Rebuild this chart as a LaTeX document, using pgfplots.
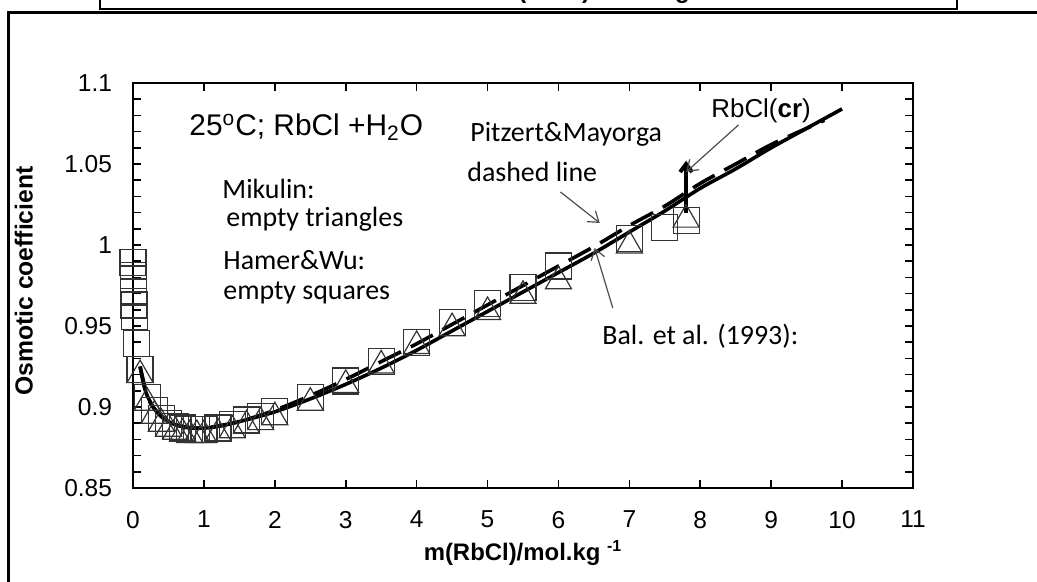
\documentclass[border=0pt]{standalone}
\usepackage{fontspec}
\setmainfont{Liberation Sans}
\newfontfamily\calibri{Carlito}
\usepackage{pgfplots}
\pgfplotsset{compat=1.18}
\usetikzlibrary{arrows.meta}

\pgfplotstableread{
m phi
0.001 0.989
0.002 0.981
0.005 0.979
0.01 0.971
0.015 0.963
0.02 0.956
0.05 0.939
0.1 0.923
0.2 0.906
0.3 0.898
0.4 0.893
0.5 0.890
0.6 0.888
0.7 0.887
0.8 0.886
0.9 0.886
1.0 0.886
1.2 0.887
1.4 0.889
1.6 0.892
1.8 0.894
2.0 0.897
2.5 0.906
3.0 0.916
3.5 0.928
4.0 0.940
4.5 0.952
5.0 0.964
5.5 0.974
6.0 0.987
7.0 1.004
7.5 1.011
7.8 1.015
}\hamerwu

\pgfplotstableread{
m phi
0.1 0.922
0.2 0.905
0.3 0.897
0.4 0.892
0.5 0.889
0.6 0.887
0.7 0.886
0.8 0.885
0.9 0.885
1.0 0.885
1.2 0.886
1.4 0.888
1.6 0.891
1.8 0.893
2.0 0.896
2.5 0.905
3.0 0.916
3.5 0.928
4.0 0.940
4.5 0.951
5.0 0.961
5.5 0.971
6.0 0.980
7.0 1.002
7.8 1.018
}\mikulin

\pgfplotstableread{
m phi
0.1 0.925
0.15 0.914
0.2 0.907
0.3 0.899
0.4 0.894
0.5 0.891
0.6 0.889
0.7 0.888
0.8 0.887
1.0 0.887
1.2 0.888
1.5 0.891
2.0 0.897
2.5 0.905
3.0 0.914
3.5 0.924
4.0 0.935
4.5 0.947
5.0 0.959
5.5 0.971
6.0 0.983
6.5 0.995
7.0 1.008
7.5 1.021
8.0 1.035
8.5 1.047
9.0 1.060
9.5 1.072
10.0 1.084
}\bal

\pgfplotstableread{
m phi
0.1 0.925
0.2 0.907
0.3 0.899
0.5 0.891
0.7 0.888
1.0 0.887
1.5 0.891
2.0 0.898
2.5 0.907
3.0 0.917
3.5 0.928
4.0 0.939
4.5 0.951
5.0 0.963
5.5 0.975
6.0 0.987
6.5 0.999
7.0 1.012
7.5 1.024
8.0 1.038
8.5 1.050
9.0 1.062
9.5 1.072
9.75 1.077
}\pitzer

\begin{document}
\begin{tikzpicture}[x=0.5bp,y=0.5bp]
\useasboundingbox (0,0) rectangle (1037,582);
% outer frame and the title box, which is cut off by the top edge
\draw[line width=1.5bp] (8,-20) -- (8,569) -- (1060,569);
\draw[line width=1bp] (100,620) -- (100,573) -- (957,573) -- (957,620);
\node[anchor=base east, inner sep=0, font=\fontsize{12}{14}\selectfont\bfseries] at (512,583) {Osmotic coefficient of};
\node[anchor=base west, inner sep=0, font=\fontsize{12}{14}\selectfont\bfseries] at (518,583) {(RbCl) and large};

\begin{axis}[
  at={(66.5bp,47bp)}, anchor=south west,
  scale only axis, width=390bp, height=202.5bp,
  xmin=0, xmax=11, ymin=0.85, ymax=1.1,
  xtick={0,1,...,11},
  ytick={0.85,0.9,0.95,1,1.05,1.1},
  minor y tick num=4,
  tick align=inside,
  major tick length=4bp, minor tick length=4bp,
  axis line style={line width=1bp},
  every tick/.style={black, line width=0.8bp},
  tick label style={font=\fontsize{12.3}{14}\selectfont},
  /pgf/number format/assume math mode=true,
  yticklabel style={/pgf/number format/fixed, /pgf/number format/precision=2, xshift=-7bp},
  xticklabel style={yshift=-8bp},
  xlabel={\textbf{m(RbCl)/mol.kg} \textsuperscript{\textbf{-1}}},
  xlabel style={at={(axis description cs:0.5,-0.16)}, anchor=center, font=\fontsize{12}{14}\selectfont},
  ylabel={\textbf{Osmotic coefficient}},
  ylabel style={at={(axis description cs:-0.14,0.511)}, anchor=center, font=\fontsize{12.4}{14}\selectfont},
  clip=false,
]
\addplot[only marks, mark=square, mark size=6.5bp, mark options={draw=black!80, line width=0.6bp, fill=none}] table[x=m,y=phi] {\hamerwu};
\addplot[only marks, mark=triangle, mark size=7.5bp, mark options={draw=black!80, line width=0.6bp, fill=none, yshift=-1.9bp}] table[x=m,y=phi] {\mikulin};
\addplot[black, line width=1.8bp, smooth, dash pattern=on 12.5bp off 5.5bp] table[x=m,y=phi] {\pitzer};
\addplot[black, line width=1.8bp, smooth] table[x=m,y=phi] {\bal};
\addplot[black, line width=2bp, -{Straight Barb[length=4bp,width=6bp]}] coordinates {(7.8,1.020) (7.8,1.052)};
\draw[black!70, line width=0.6bp, -{Straight Barb[length=5bp,width=7bp]}] (axis cs:6.028,1.0327) -- (axis cs:6.582,1.0136);
\draw[black!70, line width=0.6bp, -{Straight Barb[length=5bp,width=7bp]}] (axis cs:6.766,0.9611) -- (axis cs:6.511,0.9981);
\draw[black!70, line width=0.6bp, -{Straight Barb[length=5bp,width=7bp]}] (axis cs:8.539,1.0741) -- (axis cs:7.801,1.0451);
\end{axis}

% annotations (pixel coordinates, y flipped)
\node[anchor=base west, inner sep=0, font=\fontsize{15}{18}\selectfont] at (189,446) {25\textsuperscript{o}C; RbCl +H\textsubscript{2}O};
\node[anchor=base west, inner sep=0, font=\calibri\fontsize{14}{17}\selectfont] at (222,383) {Mikulin:};
\node[anchor=base west, inner sep=0, font=\calibri\fontsize{14}{17}\selectfont] at (226,355) {empty triangles};
\node[anchor=base west, inner sep=0, font=\calibri\fontsize{14}{17}\selectfont] at (223,312) {Hamer\&Wu:};
\node[anchor=base west, inner sep=0, font=\calibri\fontsize{14}{17}\selectfont] at (223,282) {empty squares};
\node[anchor=base west, inner sep=0, font=\calibri\fontsize{14}{17}\selectfont] at (470,440) {Pitzert\&Mayorga};
\node[anchor=base west, inner sep=0, font=\calibri\fontsize{14}{17}\selectfont] at (467,400) {dashed line};
\node[anchor=base west, inner sep=0, font=\fontsize{13}{16}\selectfont] at (711,464) {RbCl(\textbf{cr})};
\node[anchor=base west, inner sep=0, font=\calibri\fontsize{14}{17}\selectfont] at (602,237) {Bal. et al. (1993):};
\end{tikzpicture}
\end{document}
